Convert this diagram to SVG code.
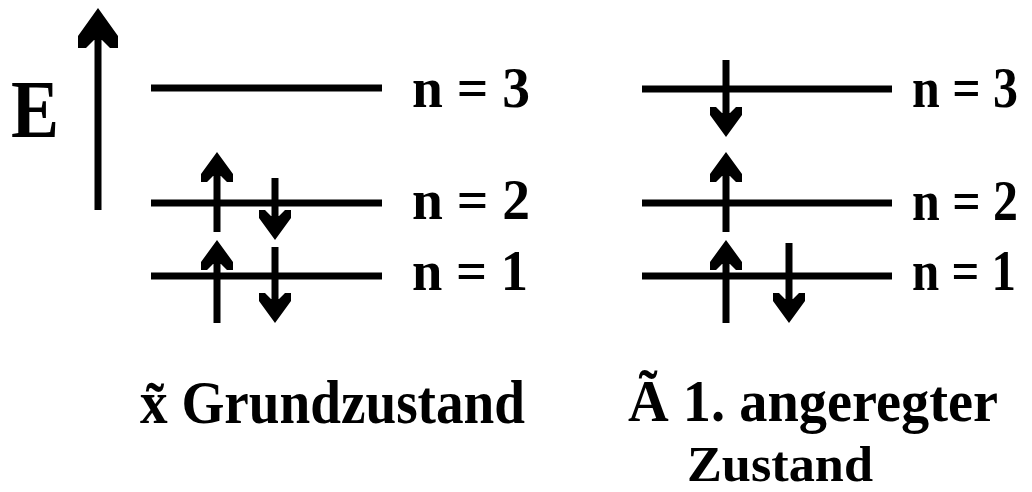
<svg xmlns="http://www.w3.org/2000/svg" xmlns:xlink="http://www.w3.org/1999/xlink" width="1032" height="492" viewBox="0 0 1032 492">
<style>
.lvl{stroke:#000;stroke-width:7;fill:none}
.sh{stroke:#000;stroke-width:7;fill:none}
.hd{fill:#000}
.t{font-family:"Liberation Serif","Times New Roman",serif;font-weight:bold;fill:#000}
</style>
<defs>
<path id="up" class="hd" d="M0,0 L16,22 L16,30 L10,30 L4,24 L-4,24 L-10,30 L-16,30 L-16,22 Z"/>
<path id="dn" class="hd" d="M0,0 L16,-22 L16,-30 L10,-30 L4,-24 L-4,-24 L-10,-30 L-16,-30 L-16,-22 Z"/>
</defs>
<rect width="1032" height="492" fill="#fff"/>
<g id="axis">
<line class="sh" x1="98" y1="40" x2="98" y2="210"/>
<path class="hd" d="M98,8 L118,36 L118,48 L110,48 L102,40 L94,40 L86,48 L78,48 L78,36 Z"/>
<text class="t" x="11" y="137" font-size="82" textLength="48" lengthAdjust="spacingAndGlyphs">E</text>
</g>
<g id="ground">
<line class="lvl" x1="151" y1="88" x2="382" y2="88"/>
<line class="lvl" x1="151" y1="203" x2="382" y2="203"/>
<line class="lvl" x1="151" y1="276" x2="382" y2="276"/>
<text class="t" x="412" y="107" font-size="58" textLength="118" lengthAdjust="spacingAndGlyphs">n = 3</text>
<text class="t" x="412" y="219" font-size="58" textLength="118" lengthAdjust="spacingAndGlyphs">n = 2</text>
<text class="t" x="412" y="290" font-size="58" textLength="116" lengthAdjust="spacingAndGlyphs">n = 1</text>
<text class="t" x="140" y="423" font-size="62" textLength="385" lengthAdjust="spacingAndGlyphs">x&#x303; Grundzustand</text>
</g>
<g id="excited">
<line class="lvl" x1="642" y1="89" x2="892" y2="89"/>
<line class="lvl" x1="642" y1="203" x2="892" y2="203"/>
<line class="lvl" x1="642" y1="276" x2="892" y2="276"/>
<text class="t" x="912" y="107" font-size="56" textLength="106" lengthAdjust="spacingAndGlyphs">n = 3</text>
<text class="t" x="912" y="220" font-size="56" textLength="106" lengthAdjust="spacingAndGlyphs">n = 2</text>
<text class="t" x="912" y="290" font-size="56" textLength="104" lengthAdjust="spacingAndGlyphs">n = 1</text>
<text class="t" x="628" y="421" font-size="60" textLength="370" lengthAdjust="spacingAndGlyphs">&#xC3; 1. angeregter</text>
<text class="t" x="687" y="481" font-size="50" textLength="186" lengthAdjust="spacingAndGlyphs">Zustand</text>
</g>
<g id="connectors">
<line class="sh" x1="217" y1="170" x2="217" y2="232"/><use xlink:href="#up" x="217" y="152"/>
<line class="sh" x1="217" y1="258" x2="217" y2="323"/><use xlink:href="#up" x="217" y="240"/>
<line class="sh" x1="275" y1="178" x2="275" y2="222"/><use xlink:href="#dn" x="275" y="240"/>
<line class="sh" x1="275" y1="247" x2="275" y2="305"/><use xlink:href="#dn" x="275" y="323"/>
<line class="sh" x1="726" y1="60" x2="726" y2="119"/><use xlink:href="#dn" x="726" y="137"/>
<line class="sh" x1="726" y1="170" x2="726" y2="232"/><use xlink:href="#up" x="726" y="152"/>
<line class="sh" x1="726" y1="258" x2="726" y2="323"/><use xlink:href="#up" x="726" y="240"/>
<line class="sh" x1="789" y1="243" x2="789" y2="305"/><use xlink:href="#dn" x="789" y="323"/>
</g>
</svg>
